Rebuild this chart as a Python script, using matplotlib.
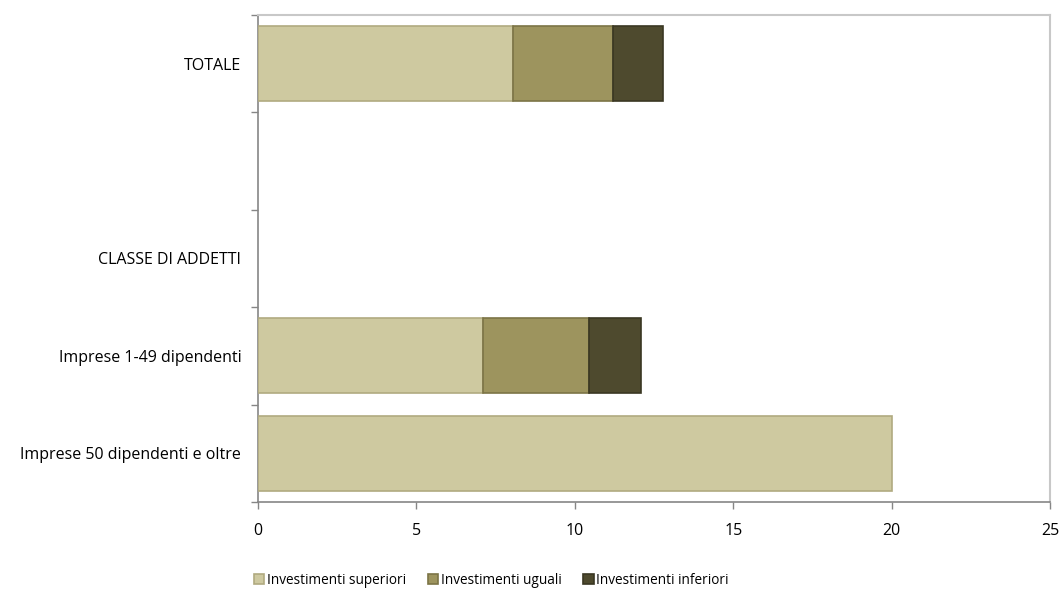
import matplotlib.pyplot as plt
import numpy as np

categorie = ['Imprese 50 dipendenti e oltre', 'Imprese 1-49 dipendenti', 'CLASSE DI ADDETTI', '', 'TOTALE']
superiori = [20.0, 7.1, 0, 0, 8.05]
uguali = [0, 3.35, 0, 0, 3.15]
inferiori = [0, 1.65, 0, 0, 1.57]

serie = ['Investimenti superiori', 'Investimenti uguali', 'Investimenti inferiori']
colori = ['#cec9a0', '#9d945e', '#4e4a2e']
bordi = ['#b0aa80', '#7c7446', '#3a3722']
xticks = [0, 5, 10, 15, 20, 25]

plt.rcParams['font.family'] = ['Open Sans', 'DejaVu Sans']

fig = plt.figure(figsize=(10.64, 5.92), dpi=100)
ax = fig.add_axes([0.2425, 0.152, 0.7443, 0.8227])

y = np.arange(len(categorie))
left = np.zeros(len(categorie))
for vals, nome, col, bor in zip([superiori, uguali, inferiori], serie, colori, bordi):
    vals = np.array(vals)
    # zero-length segments would still show their edge line, so leave them out
    m = vals > 0
    ax.barh(y[m], vals[m], left=left[m], height=0.77, color=col, edgecolor=bor,
            linewidth=1.2, label=nome, zorder=3)
    left += vals

ax.set_xlim(0, 25)
ax.set_ylim(-0.5, len(categorie) - 0.5)
ax.set_xticks(xticks)
ax.set_xticklabels([str(t) for t in xticks], fontsize=11.5)
ax.set_yticks(y)
ax.set_yticklabels(categorie, fontsize=11.5)
ax.set_yticks(np.arange(-0.5, len(categorie), 1), minor=True)
ax.tick_params(axis='y', which='major', length=0, pad=12)
ax.tick_params(axis='y', which='minor', length=5, color='#868686', width=1)
ax.tick_params(axis='x', length=5, color='#868686', width=1, pad=10)

for s in ['left', 'bottom']:
    ax.spines[s].set_color('#868686')
    ax.spines[s].set_linewidth(1.2)
for s in ['top', 'right']:
    ax.spines[s].set_color('#c8c8c8')
    ax.spines[s].set_linewidth(1.5)

fig.legend(loc='center', bbox_to_anchor=(0.462, 0.02), ncol=3, frameon=False,
           fontsize=9.8, handlelength=0.75, handleheight=0.75, handletextpad=0.2,
           columnspacing=1.6)

fig.savefig('out.png', dpi=100)
